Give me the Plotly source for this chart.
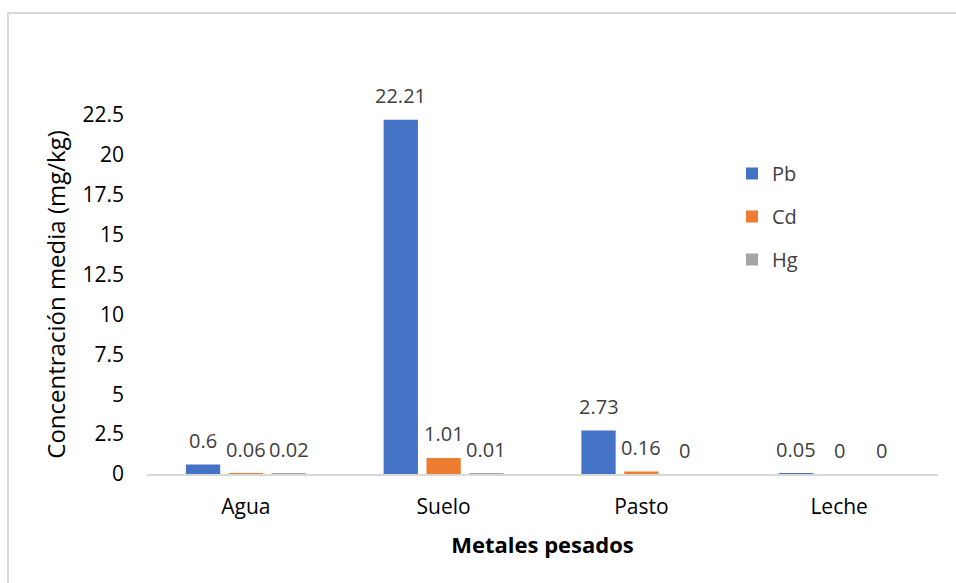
import plotly.graph_objects as go

categories = ["Agua", "Suelo", "Pasto", "Leche"]
pb = [0.6, 22.21, 2.73, 0.05]
cd = [0.06, 1.01, 0.16, 0]
hg = [0.02, 0.01, 0, 0]
series_names = ["Pb", "Cd", "Hg"]
series_values = [pb, cd, hg]
colors = ["#4472C4", "#ED7D31", "#A5A5A5"]
y_ticks = [0, 2.5, 5, 7.5, 10, 12.5, 15, 17.5, 20, 22.5]
y_tick_labels = ["0", "2.5", "5", "7.5", "10", "12.5", "15", "17.5", "20", "22.5"]

W, H = 956, 583
L, R, T, B = 147, 18, 115, 109
plot_w = W - L - R
plot_h = H - T - B

FONT = "'Open Sans', sans-serif"

fig = go.Figure()
for i, (name, vals) in enumerate(zip(series_names, series_values)):
    fig.add_trace(go.Bar(
        x=categories, y=vals, name=name,
        marker=dict(color=colors[i], line=dict(width=0)),
        legendgroup=name,
    ))

# data labels as annotations above each bar
cat_w = plot_w / len(categories)
bargap = 0.35
groupw = cat_w * (1 - bargap)
slot = groupw / 3
annotations = []
for i, vals in enumerate(series_values):
    xshift = (i - 1) * slot
    for c, v in zip(categories, vals):
        annotations.append(dict(
            x=c, y=v, xref="x", yref="y", text=str(v), showarrow=False,
            xshift=xshift, yshift=24, yanchor="middle",
            font=dict(family=FONT, size=20, color="#404040"),
        ))

fig.update_layout(
    width=W, height=H,
    margin=dict(l=L, r=R, t=T, b=B, autoexpand=False),
    paper_bgcolor="white", plot_bgcolor="white",
    barmode="group", bargap=bargap, bargroupgap=0.2,
    font=dict(family=FONT, size=20, color="#000000"),
    showlegend=True,
    legend=dict(
        x=(732 - L) / plot_w, y=(474 - 154) / plot_h, xanchor="left", yanchor="top",
        font=dict(family=FONT, size=20, color="#404040"),
        tracegroupgap=14, bgcolor="rgba(0,0,0,0)", itemwidth=30,
    ),
    annotations=annotations,
    shapes=[dict(
        type="rect", xref="paper", yref="paper",
        x0=(8 - L) / plot_w, x1=(W + 20 - L) / plot_w,
        y0=(474 - H - 20) / plot_h, y1=(474 - 13) / plot_h,
        line=dict(color="#D9D9D9", width=2), fillcolor="rgba(0,0,0,0)", layer="below",
    )],
)

fig.update_xaxes(
    showline=True, linecolor="#D9D9D9", linewidth=2,
    ticks="", showgrid=False,
    tickfont=dict(family=FONT, size=21, color="#000000"),
    ticklabelstandoff=13,
    title=dict(text="<b>Metales pesados</b>", font=dict(family=FONT, size=22, color="#000000"), standoff=18),
)
fig.update_yaxes(
    range=[0, 22.5], tickvals=y_ticks, ticktext=y_tick_labels,
    showline=False, showgrid=False, zeroline=False, ticks="",
    tickfont=dict(family=FONT, size=21, color="#000000"),
    ticklabelstandoff=22,
    title=dict(text="Concentración media (mg/kg)", font=dict(family=FONT, size=24, color="#000000"), standoff=10),
)

fig.write_html("out.html")
